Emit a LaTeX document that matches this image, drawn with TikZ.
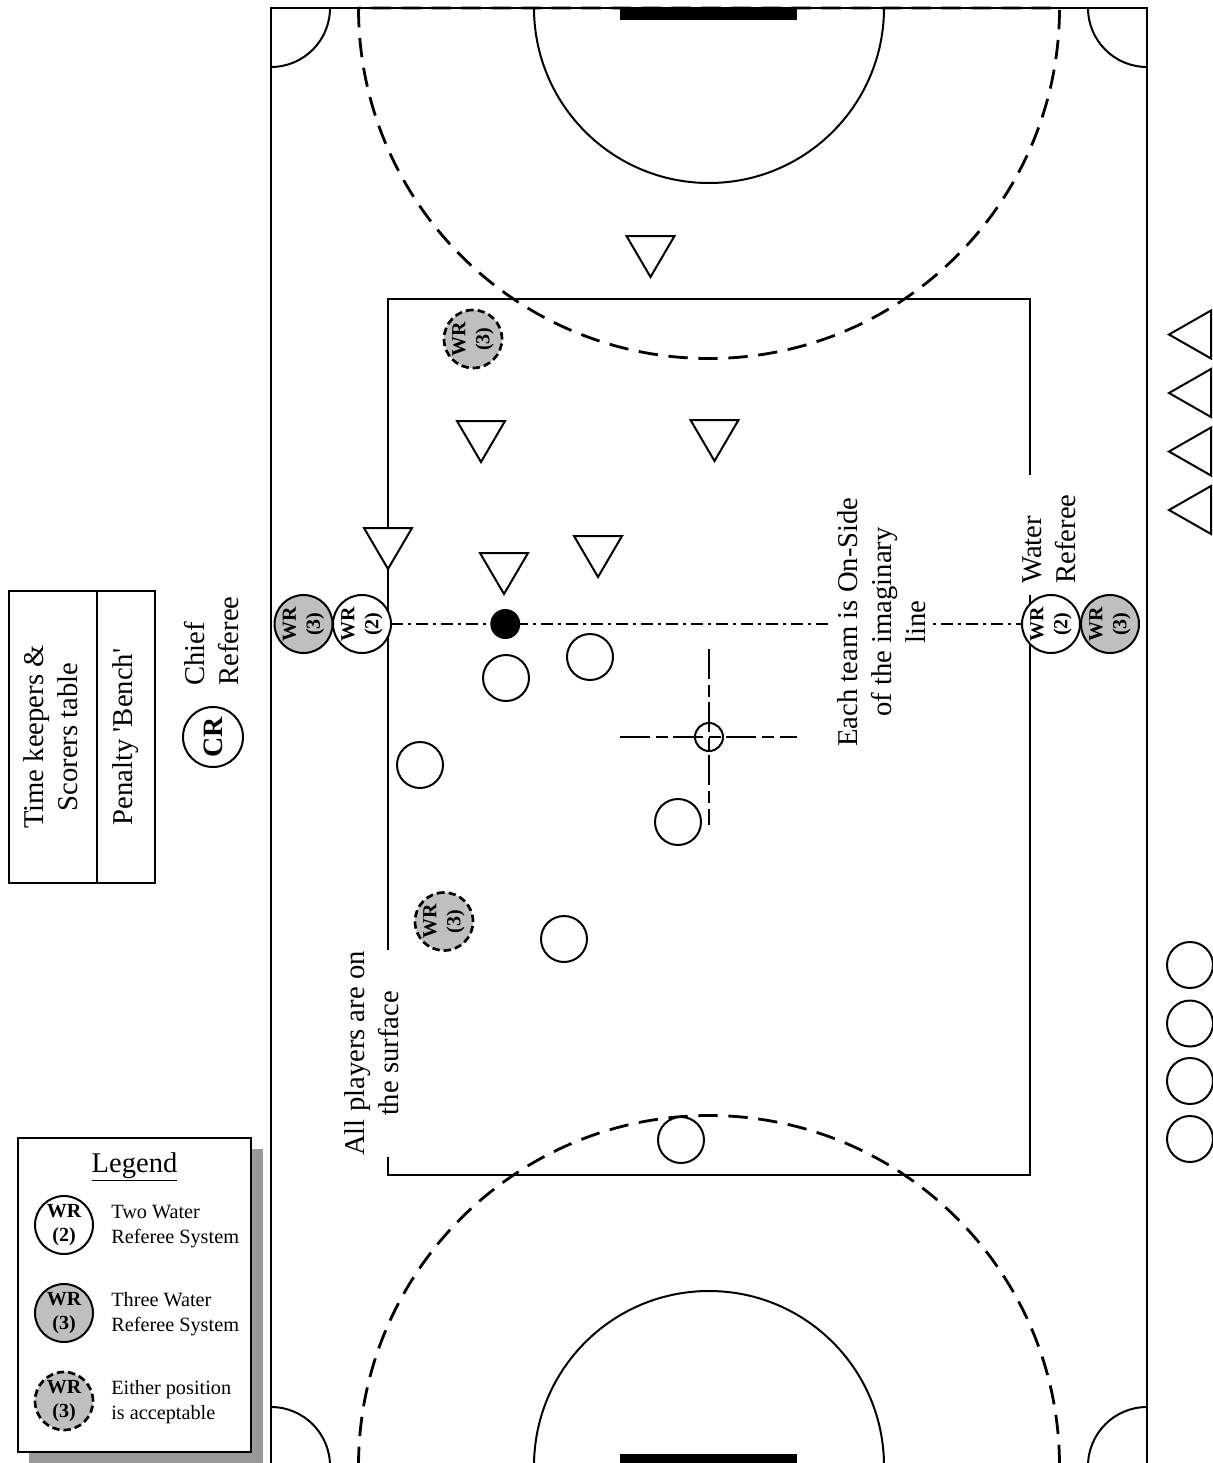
\documentclass[tikz,border=0pt]{standalone}
\usepackage{fontspec}
\setmainfont{Liberation Serif}
\definecolor{wrgray}{gray}{0.75}
\definecolor{shadowgray}{gray}{0.6}
\tikzset{
  line/.style={line width=1.5pt,black},
  thinline/.style={line width=0.85pt,black},
  player/.style={circle,draw,line width=1.5pt,fill=white,minimum size=34.5pt,inner sep=0pt,outer sep=0pt},
  wr/.style={circle,draw,line width=1.5pt,minimum size=43.5pt,inner sep=0pt,outer sep=0pt,align=center,font=\fontsize{15}{18}\selectfont\bfseries},
  wrtwo/.style={wr,fill=white},
  wrthree/.style={wr,fill=wrgray},
  wreither/.style={wr,fill=wrgray,line width=2pt,dash pattern=on 5.5pt off 3pt},
  bigdash/.style={line width=2.1pt,dash pattern=on 14.5pt off 8pt},
  crossline/.style={line width=1.3pt,dash pattern=on 22.5pt off 4.2pt on 9pt off 4.2pt},
  lbl/.style={rotate=90,align=center,inner sep=0pt,outer sep=0pt,font=\fontsize{21.5}{25.5}\selectfont},
  lblleft/.style={lbl,align=left},
  legtext/.style={anchor=west,align=left,inner sep=0pt,font=\fontsize{15.2}{18.75}\selectfont},
  tri/.style={line width=1.5pt,fill=white,line join=miter},
}
\newcommand{\downtri}[2]{\draw[tri] (#1-24,#2) -- (#1+24,#2) -- (#1,#2+41) -- cycle;}
\newcommand{\lefttri}[1]{\draw[tri] (1211,#1-24) -- (1211,#1+24) -- (1169,#1) -- cycle;}
\begin{document}
\begin{tikzpicture}[x=0.75pt,y=-0.75pt]
\useasboundingbox (0,0) rectangle (1213,1463);
\begin{scope}
\clip (0,0) rectangle (1213,1463);
% pool
\draw[line] (271,1480) -- (271,8) -- (1147,8) -- (1147,1480);
\draw[line] (271,1466) -- (1147,1466);
% corners
\draw[line] (330,8) arc[start angle=0,end angle=90,radius=59];
\draw[line] (1088,8) arc[start angle=180,end angle=90,radius=59];
\draw[line] (330,1466) arc[start angle=0,end angle=-90,radius=59];
\draw[line] (1088,1466) arc[start angle=180,end angle=270,radius=59];
% goals
\fill (620,8) rectangle (797,20);
\fill (620,1454) rectangle (797,1466);
% goal areas
\draw[line] (534,8) arc[start angle=180,end angle=0,radius=175];
\draw[line] (534,1466) arc[start angle=180,end angle=360,radius=175];
% dashed arcs
\draw[bigdash] (358.5,8) arc[start angle=180,end angle=0,radius=350.5] -- cycle;
\draw[bigdash] (358.5,1466) arc[start angle=180,end angle=360,radius=350.5] -- cycle;
% inner lines
\draw[thinline] (388,950) -- (388,299) -- (1030,299) -- (1030,475);
\draw[thinline] (1030,595) -- (1030,1175) -- (388,1175) -- (388,1157);
% centre cross
\coordinate (crossW) at (620,737);
\coordinate (crossE) at (797,737);
\coordinate (crossN) at (709,649);
\coordinate (crossS) at (709,825);
\draw[crossline] (crossW) -- (crossE);
\draw[crossline] (crossN) -- (crossS);
\node[circle,draw,line width=1.5pt,minimum size=21pt,inner sep=0pt] (centre) at (709,737) {};
% players
\node[player] (p1) at (506,678) {};
\node[player] (p2) at (590,657) {};
\node[player] (p3) at (420,765) {};
\node[player] (p4) at (678,822) {};
\node[player] (p5) at (564,939) {};
\node[player] (p6) at (681,1140) {};
\node[player] (b1) at (1190,965) {};
\node[player] (b2) at (1190,1023.5) {};
\node[player] (b3) at (1190,1081) {};
\node[player] (b4) at (1190,1139) {};
% triangles
\downtri{650.5}{236}
\downtri{481}{421}
\downtri{714.5}{420}
\downtri{388}{528}
\downtri{504}{553}
\downtri{598}{536}
\lefttri{334.5}
\lefttri{393}
\lefttri{451.5}
\lefttri{510}
% referees
\node[wrthree,rotate=90] (wrthreeL) at (303.5,624) {WR\\(3)};
\node[wrtwo,rotate=90] (wrtwoL) at (362,624) {WR\\(2)};
\node[wrtwo,rotate=90] (wrtwoR) at (1051,624) {WR\\(2)};
\node[wrthree,rotate=90] (wrthreeR) at (1110,624) {WR\\(3)};
\node[wreither,rotate=90] (wrA) at (473,339) {WR\\(3)};
\node[wreither,rotate=90] (wrB) at (444,921.5) {WR\\(3)};
% imaginary line
\draw[line width=1.6pt,dash pattern=on 9pt off 3.75pt on 2.25pt off 3.75pt] (wrtwoL) -- (wrtwoR);
\node[circle,fill=black,minimum size=22.5pt,inner sep=0pt] (ball) at (505.3,624) {};
% labels
\node[lbl,fill=white,inner ysep=4pt] (each) at (882,622) {Each team is On-Side\\of the imaginary\\line};
\node[lbl] (surface) at (372,1053.5) {All players are on\\the surface};
\node[lblleft] (waterlbl) at (1049,539) {Water\\Referee};
\node[lblleft] (chieflbl) at (212,641) {Chief\\Referee};
\node[circle,draw,line width=1.5pt,minimum size=45pt,inner sep=0pt,rotate=90,font=\fontsize{21}{25}\selectfont\bfseries] (cr) at (213,737) {CR};
% table
\node[draw,line width=1.5pt,minimum width=66pt,minimum height=219pt,inner sep=0pt] (table) at (53,737) {};
\node[draw,line width=1.5pt,minimum width=43.5pt,minimum height=219pt,inner sep=0pt] (bench) at (126,737) {};
\node[lbl] (tablelbl) at (51,737) {Time keepers \&\\Scorers table};
\node[lbl] (benchlbl) at (126,737) {Penalty \textquotesingle Bench\textquotesingle};
% legend
\fill[shadowgray] (29,1149) rectangle (263,1463);
\draw[line,fill=white] (18,1138) rectangle (251,1452);
\node[inner sep=0pt,font=\fontsize{21.4}{25}\selectfont] (legtitle) at (134.5,1167) {\underline{Legend}};
\node[wrtwo] (l1) at (64,1225) {WR\\(2)};
\node[wrthree] (l2) at (64,1313) {WR\\(3)};
\node[wreither] (l3) at (64,1401) {WR\\(3)};
\node[legtext] (t1) at (111,1226.5) {Two Water\\Referee System};
\node[legtext] (t2) at (111,1314.5) {Three Water\\Referee System};
\node[legtext] (t3) at (111,1402.5) {Either position\\is acceptable};
\end{scope}
\end{tikzpicture}
\end{document}
